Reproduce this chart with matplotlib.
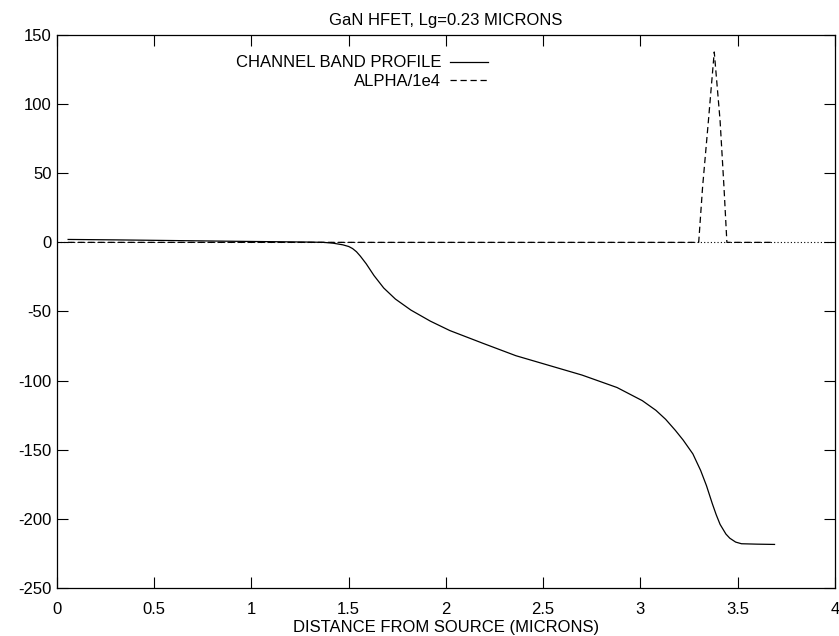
import numpy as np
import matplotlib.pyplot as plt

plt.rcParams['font.family'] = ['Liberation Sans', 'DejaVu Sans']
plt.rcParams['axes.unicode_minus'] = False

# channel band profile
x_band = [0.057, 0.3, 0.6, 0.9, 1.1, 1.3, 1.37, 1.42, 1.47, 1.50, 1.52, 1.54, 1.56, 1.59,
          1.63, 1.68, 1.74, 1.82, 1.92, 2.02, 2.19, 2.36, 2.53, 2.70, 2.88, 3.01, 3.08,
          3.13, 3.18, 3.22, 3.27, 3.31, 3.34, 3.37, 3.39, 3.41, 3.44, 3.46, 3.49, 3.52,
          3.60, 3.69]
y_band = [2.1, 1.8, 1.3, 0.8, 0.5, 0.2, 0.0, -0.6, -1.8, -3.0, -4.5, -6.8, -10, -15.5,
          -24, -33, -41, -49, -57, -63.8, -73, -82, -89, -96, -105, -114.5, -121.5,
          -128, -136, -143, -153, -165, -176, -189, -197, -204, -211, -214, -216.8, -218,
          -218.3, -218.5]

# ALPHA/1e4
x_alpha = [0.057, 3.30, 3.32, 3.35, 3.38, 3.41, 3.43, 3.445, 3.69]
y_alpha = [0, 0, 40, 88, 137.7, 88, 40, 0, 0]

fig = plt.figure(figsize=(8.39, 6.36), dpi=100)
ax = fig.add_axes([0.068, 0.0755, 0.927, 0.8695])

ax.axhline(0, color='black', lw=0.8, ls=(0, (1, 2)))
ax.plot(x_band, y_band, color='black', lw=0.9, label='CHANNEL BAND PROFILE')
ax.plot(x_alpha, y_alpha, color='black', lw=0.9, ls=(0, (5, 3)), label='ALPHA/1e4')

ax.set_xlim(0, 4)
ax.set_ylim(-250, 150)
ax.set_xticks(np.arange(0, 4.01, 0.5))
ax.set_xticklabels(['0', '0.5', '1', '1.5', '2', '2.5', '3', '3.5', '4'])
ax.set_yticks(np.arange(-250, 151, 50))
ax.tick_params(direction='in', length=8, width=0.8, top=True, right=True,
               labelsize=12, pad=4)
ax.tick_params(axis='x', pad=10)
for s in ax.spines.values():
    s.set_linewidth(0.9)

ax.set_title('GaN HFET, Lg=0.23 MICRONS', fontsize=12, pad=7)
ax.set_xlabel('DISTANCE FROM SOURCE (MICRONS)', fontsize=12, labelpad=2)

ax.legend(loc='upper right', bbox_to_anchor=(0.554, 0.963), frameon=False,
          markerfirst=False, handlelength=2.3, handletextpad=0.5,
          labelspacing=0.2, borderpad=0, borderaxespad=0, fontsize=12)

fig.savefig('out.png', dpi=100)
